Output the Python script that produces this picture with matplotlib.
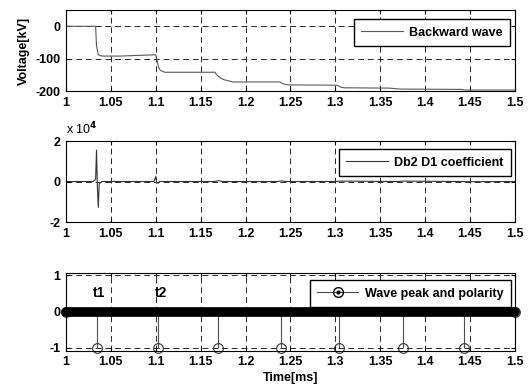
import numpy as np
import matplotlib
matplotlib.use("Agg")
import matplotlib.pyplot as plt
from matplotlib.lines import Line2D
from matplotlib.legend_handler import HandlerLine2D
from matplotlib.ticker import FuncFormatter

plt.rcParams['font.family'] = ['Liberation Sans', 'DejaVu Sans']
plt.rcParams['font.size'] = 9
plt.rcParams['font.weight'] = 'bold'
plt.rcParams['axes.labelweight'] = 'bold'
plt.rcParams['axes.unicode_minus'] = False

# backward wave voltage (kV) vs time (ms)
bw_time = [1.0, 1.033, 1.034, 1.036, 1.04, 1.06, 1.09, 1.1, 1.101, 1.103, 1.105, 1.11,
           1.166, 1.168, 1.172, 1.176, 1.186, 1.238, 1.242, 1.247, 1.302, 1.306, 1.31,
           1.36, 1.372, 1.44, 1.445, 1.5]
bw_volt = [0, 0, -60, -88, -92, -92, -89, -88, -100, -125, -136, -142,
           -142, -150, -160, -165, -172, -172, -178, -181, -182, -188, -190,
           -191, -194, -195, -197, -197]

# Db2 D1 wavelet coefficient
d1_time = [1.0, 1.03, 1.033, 1.034, 1.035, 1.036, 1.037, 1.04, 1.098, 1.1, 1.101, 1.103,
           1.104, 1.106, 1.165, 1.17, 1.175, 1.235, 1.24, 1.245, 1.3, 1.305, 1.37, 1.375,
           1.44, 1.445, 1.5]
d1_val = [0, 0, 1000, 15500, -3000, -12800, -1000, 0, 0, 2500, -500, -800,
          0, 0, 0, 400, 0, 0, 300, 0, 0, 200, 0, 200,
          0, -100, 0]

# detected wave peaks and polarity
peak_time = [1.0, 1.034, 1.103, 1.169, 1.239, 1.304, 1.375, 1.443, 1.5]
peak_pol = [0, -1, -1, -1, -1, -1, -1, -1, 0]

x_ticks = [1, 1.05, 1.1, 1.15, 1.2, 1.25, 1.3, 1.35, 1.4, 1.45, 1.5]


class EndMarker(HandlerLine2D):
    # put the legend marker at the right end of the line, like matlab stem
    def get_xdata(self, legend, xdescent, ydescent, width, height, fontsize):
        xd, xm = super().get_xdata(legend, xdescent, ydescent, width, height, fontsize)
        return xd, [xd[-1] - 0.25 * fontsize]


fig = plt.figure(figsize=(5.3, 3.89), dpi=100)
ax1 = fig.add_axes([0.1245, 0.766, 0.847, 0.208])
ax2 = fig.add_axes([0.1245, 0.4293, 0.847, 0.2082])
ax3 = fig.add_axes([0.1245, 0.0985, 0.847, 0.2005])

gfmt = FuncFormatter(lambda v, p: '%g' % round(v, 4))
leg_kw = dict(loc='upper right', fancybox=False, edgecolor='k', framealpha=1,
              borderaxespad=0, handlelength=3.3, handletextpad=0.5, borderpad=0.6)


def style(ax):
    ax.set_xlim(1, 1.5)
    ax.set_xticks(x_ticks)
    ax.xaxis.set_major_formatter(gfmt)
    ax.grid(True, color='0.15', linestyle=(0, (6, 4)), linewidth=0.7)
    ax.tick_params(direction='in', length=3, top=True, right=True, pad=4)
    for s in ax.spines.values():
        s.set_linewidth(0.8)


ax1.plot(bw_time, bw_volt, color='0.35', lw=0.8, label='Backward wave')
style(ax1)
ax1.set_ylim(-200, 50)
ax1.set_yticks([-200, -100, 0])
ax1.set_ylabel('Voltage[kV]', labelpad=4)
ax1.legend(bbox_to_anchor=(0.989, 0.889), **leg_kw)

ax2.plot(d1_time, d1_val, color='0.2', lw=0.8, label='Db2 D1 coefficient')
style(ax2)
ax2.set_ylim(-2e4, 2e4)
ax2.set_yticks([-2e4, 0, 2e4])
ax2.yaxis.set_major_formatter(FuncFormatter(lambda v, p: '%g' % (v / 1e4)))
ax2.text(0.0, 1.04, r'x 10$^{4}$', transform=ax2.transAxes, ha='left', va='bottom',
         fontweight='normal')
ax2.legend(bbox_to_anchor=(0.991, 0.901), **leg_kw)

markers, stems, base = ax3.stem(peak_time, peak_pol, basefmt='k-')
markers.set_markerfacecolor('none')
markers.set_markeredgecolor('0.2')
markers.set_markersize(7)
markers.set_markeredgewidth(0.8)
markers.set_clip_on(False)
stems.set_color('0.3')
stems.set_linewidth(0.8)
base.set_linewidth(7)
base.set_solid_capstyle('round')
base.set_clip_on(False)
style(ax3)
ax3.set_ylim(-1.08, 1.07)
ax3.set_yticks([-1, 0, 1])
ax3.text(peak_time[1] + 0.003, 0.52, 't1', ha='center', va='center', fontsize=10)
ax3.text(peak_time[2] + 0.003, 0.52, 't2', ha='center', va='center', fontsize=10)
ax3.set_xlabel('Time[ms]', labelpad=3)
h = (Line2D([], [], color='0.3', lw=0.8, marker='o', mfc='none', mec='k', ms=7),
     Line2D([], [], ls='', marker='.', color='k', ms=4))
ax3.legend([h], ['Wave peak and polarity'], bbox_to_anchor=(0.991, 0.906),
           handler_map={Line2D: EndMarker()}, **leg_kw)

fig.savefig('out.png', dpi=100)
